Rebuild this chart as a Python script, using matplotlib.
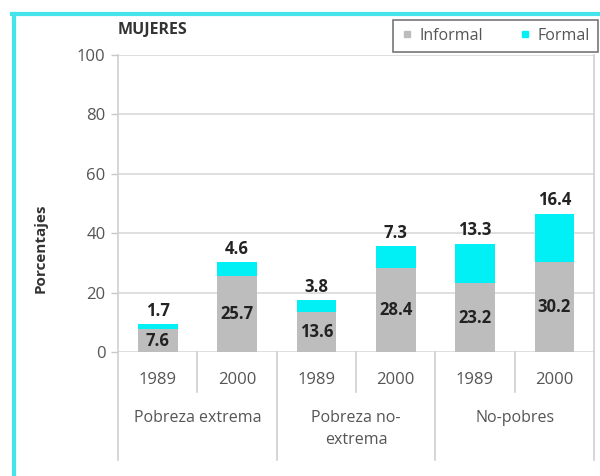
import matplotlib
matplotlib.use("Agg")
import matplotlib.pyplot as plt
from matplotlib.lines import Line2D
import numpy as np

# Data
groups = ["Pobreza extrema", "Pobreza no-\nextrema", "No-pobres"]
years = ["1989", "2000", "1989", "2000", "1989", "2000"]
informal = [7.6, 25.7, 13.6, 28.4, 23.2, 30.2]
formal = [1.7, 4.6, 3.8, 7.3, 13.3, 16.4]

gray = "#bdbdbd"
cyan = "#00f0f5"
plt.rcParams['font.family'] = ['Open Sans', 'DejaVu Sans']

fig = plt.figure(figsize=(6, 4.76), dpi=100)
ax = fig.add_axes([118/600, 1-352/476, 476/600, 297/476])

x = np.arange(len(years)) + 0.5
ax.bar(x, informal, width=0.5, color=gray, label="Informal", zorder=3)
ax.bar(x, formal, width=0.5, bottom=informal, color=cyan, label="Formal", zorder=3)

# value labels
for xi, inf, fo in zip(x, informal, formal):
    ax.text(xi, inf/2, f"{inf}", ha="center", va="center", fontsize=12,
            fontweight="bold", color="#222222", zorder=4)
    ax.annotate(f"{fo}", (xi, inf+fo), xytext=(0, 3), textcoords="offset points",
                ha="center", va="bottom", fontsize=12, fontweight="bold", color="#222222")

ax.set_xlim(0, 6)
ax.set_ylim(0, 100)
ax.set_yticks(range(0, 101, 20))
ax.tick_params(axis="y", colors="#c8c8c8", labelcolor="#555555", labelsize=12,
               length=5, width=1, pad=4)
ax.set_xticks([])
ax.grid(axis="y", color="#d9d9d9", linewidth=1.2, zorder=0)
ax.spines["top"].set_visible(False)
ax.spines["bottom"].set_visible(False)
for s in ["left", "right"]:
    ax.spines[s].set_color("#d0d0d0")
    ax.spines[s].set_linewidth(1.2)

ax.set_ylabel("Porcentajes", fontsize=11, fontweight="bold", color="#333333")
ax.yaxis.set_label_coords(-0.147, 0.35)

# category axis below
for i in range(7):
    low = -0.364 if i % 2 == 0 else -0.135
    ax.plot([i, i], [0, low], transform=ax.get_xaxis_transform(), color="#d0d0d0",
            linewidth=1.2, clip_on=False)
for xi, yr in zip(x, years):
    ax.text(xi, -0.094, yr, transform=ax.get_xaxis_transform(), ha="center",
            va="center", fontsize=12, color="#555555")
for g, name in enumerate(groups):
    ax.text(2*g + 1, -0.195, name, transform=ax.get_xaxis_transform(), ha="center",
            va="top", fontsize=11.5, color="#555555", linespacing=1.5)

fig.text(118/600, 1-30/476, "MUJERES", fontsize=11.5, fontweight="bold",
         color="#333333", va="center", ha="left")

handles = [Line2D([], [], marker="s", ms=5, ls="", color=gray),
           Line2D([], [], marker="s", ms=5, ls="", color=cyan)]
leg = fig.legend(handles, ["Informal", "Formal"], loc="upper right",
                 bbox_to_anchor=(598/600, 1-20/476), ncol=2, borderaxespad=0,
                 fontsize=11.5, frameon=True, fancybox=False, handlelength=0.8,
                 handletextpad=0.4, columnspacing=2.2, borderpad=0.5)
leg.get_frame().set_edgecolor("#555555")
leg.get_frame().set_linewidth(1.2)
for t in leg.get_texts():
    t.set_color("#555555")

# cyan frame on left and top
fig.add_artist(Line2D([13.5/600, 13.5/600], [0, 1-13.5/476], color="#45e3ea",
                      linewidth=3, transform=fig.transFigure))
fig.add_artist(Line2D([12/600, 1], [1-13.5/476, 1-13.5/476], color="#45e3ea",
                      linewidth=3, transform=fig.transFigure))

fig.savefig("out.png", dpi=100)
